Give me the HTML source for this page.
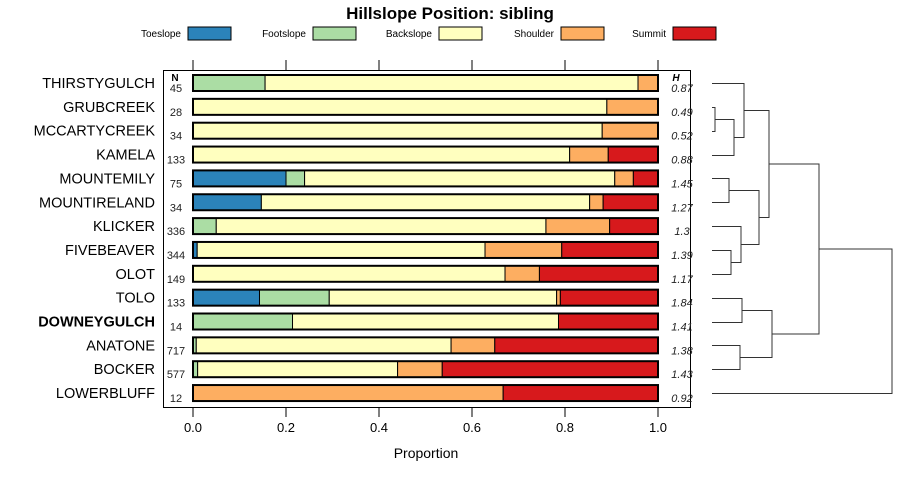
<!DOCTYPE html>
<html><head><meta charset="utf-8"><style>
body{margin:0;background:#fff;font-family:"Liberation Sans",sans-serif}
svg text{font-family:"Liberation Sans",sans-serif}
</style></head><body>
<svg id="c" width="900" height="480" xmlns="http://www.w3.org/2000/svg"></svg>
<script>
const categories=["THIRSTYGULCH","GRUBCREEK","MCCARTYCREEK","KAMELA","MOUNTEMILY","MOUNTIRELAND","KLICKER","FIVEBEAVER","OLOT","TOLO","DOWNEYGULCH","ANATONE","BOCKER","LOWERBLUFF"];
const seriesNames=["Toeslope","Footslope","Backslope","Shoulder","Summit"];
const toeslope=[0,0,0,0,0.2,0.147,0,0.009,0,0.143,0,0,0,0];
const footslope=[0.155,0,0,0,0.04,0,0.05,0,0,0.15,0.214,0.007,0.01,0];
const backslope=[0.802,0.89,0.88,0.81,0.667,0.706,0.709,0.619,0.671,0.489,0.572,0.548,0.43,0];
const shoulder=[0.043,0.11,0.12,0.083,0.04,0.029,0.137,0.165,0.074,0.008,0,0.094,0.096,0.667];
const summit=[0,0,0,0.107,0.053,0.118,0.104,0.207,0.255,0.21,0.214,0.351,0.464,0.333];
const nValues=[45,28,34,133,75,34,336,344,149,133,14,717,577,12];
const hValues=["0.87","0.49","0.52","0.88","1.45","1.27","1.3","1.39","1.17","1.84","1.41","1.38","1.43","0.92"];
const xTicks=[0,0.2,0.4,0.6,0.8,1.0];
const xTickLabels=["0.0","0.2","0.4","0.6","0.8","1.0"];
const colors=["#2b83ba","#abdda4","#ffffbf","#fdae61","#d7191c"];
const series=[toeslope,footslope,backslope,shoulder,summit];
const NS="http://www.w3.org/2000/svg";
const svg=document.getElementById('c');
function mk(t,a,txt,p){const e=document.createElementNS(NS,t);for(const k in a)e.setAttribute(k,a[k]);if(txt!=null)e.textContent=txt;(p||svg).appendChild(e);return e;}
const x=v=>193+v*465;
const y=i=>83+i*23.85;
let t=mk('text',{x:450,y:19,'text-anchor':'middle','font-size':17,'font-weight':'bold'},'Hillslope Position: sibling');


const legX=[188,313,439,561,673];
seriesNames.forEach((n,k)=>{
  const g=mk('g',{});
  
  
  mk('text',{x:legX[k]-7,y:37,'text-anchor':'end','font-size':10},n,g);
  mk('rect',{x:legX[k],y:27,width:43,height:13,fill:colors[k],stroke:'#000','stroke-width':1},null,g);
});
const pn=mk('rect',{x:163.5,y:70.5,width:527,height:337,fill:'none',stroke:'#000','stroke-width':1});


xTicks.forEach((v,k)=>{
  mk('line',{x1:x(v),x2:x(v),y1:60,y2:70,stroke:'#000'});
  mk('line',{x1:x(v),x2:x(v),y1:407,y2:417,stroke:'#000'});
  const l=mk('text',{x:x(v),y:432,'text-anchor':'middle','font-size':13},xTickLabels[k]);
  
  
});
const xt=mk('text',{x:426,y:458,'text-anchor':'middle','font-size':14},'Proportion');


mk('text',{x:175,y:81,'text-anchor':'middle','font-size':10,'font-weight':'bold'},'N');
mk('text',{x:676,y:81,'text-anchor':'middle','font-size':10,'font-weight':'bold','font-style':'italic'},'H');
categories.forEach((c,i)=>{
  const cy=y(i);
  const lab=mk('text',{x:155,y:cy+5,'text-anchor':'end','font-size':14.5,'font-weight':c==='DOWNEYGULCH'?'bold':'normal'},c);
  
  
  mk('text',{x:176,y:cy+9,'text-anchor':'middle','font-size':11,fill:'#222'},String(nValues[i]));
  mk('text',{x:682,y:cy+9,'text-anchor':'middle','font-size':11,'font-style':'italic',fill:'#222'},hValues[i]);
  let acc=0;
  series.forEach((s,k)=>{
    const v=s[i];
    if(v>0){
      const r=mk('rect',{x:x(acc),y:cy-8,width:x(acc+v)-x(acc),height:16,fill:colors[k],stroke:'#000','stroke-width':1});
      
      
    }
    acc+=v;
  });
  const o=mk('rect',{x:x(0),y:cy-8,width:x(1)-x(0),height:16,fill:'none',stroke:'#000','stroke-width':2});
  
  
});
const dg=mk('g',{fill:'none',stroke:'#333','stroke-width':1});


function br(y1,x1,y2,x2,xm){mk('path',{d:`M${x1} ${y1}H${xm}V${y2}H${x2}`},null,dg);}
const L=712,Y=i=>Math.round(y(i))+0.5;
br(Y(1),L,Y(2),L,715);
br((Y(1)+Y(2))/2,715,Y(3),L,734);
br(Y(0),L,((Y(1)+Y(2))/2+Y(3))/2,734,744);
const g1=(Y(0)+((Y(1)+Y(2))/2+Y(3))/2)/2;
br(Y(4),L,Y(5),L,729);
br(Y(7),L,Y(8),L,731);
br(Y(6),L,(Y(7)+Y(8))/2,731,741);
const a=(Y(4)+Y(5))/2,b=(Y(6)+(Y(7)+Y(8))/2)/2;
br(a,729,b,741,759);
const g2=(a+b)/2;
br(g1,744,g2,759,769);
const g12=(g1+g2)/2;
br(Y(9),L,Y(10),L,742);
br(Y(11),L,Y(12),L,740);
const c1=(Y(9)+Y(10))/2,c2=(Y(11)+Y(12))/2;
br(c1,742,c2,740,772);
const g3=(c1+c2)/2;
br(g12,769,g3,772,819);
br((g12+g3)/2,819,Y(13),L,892);
</script>
</body></html>
